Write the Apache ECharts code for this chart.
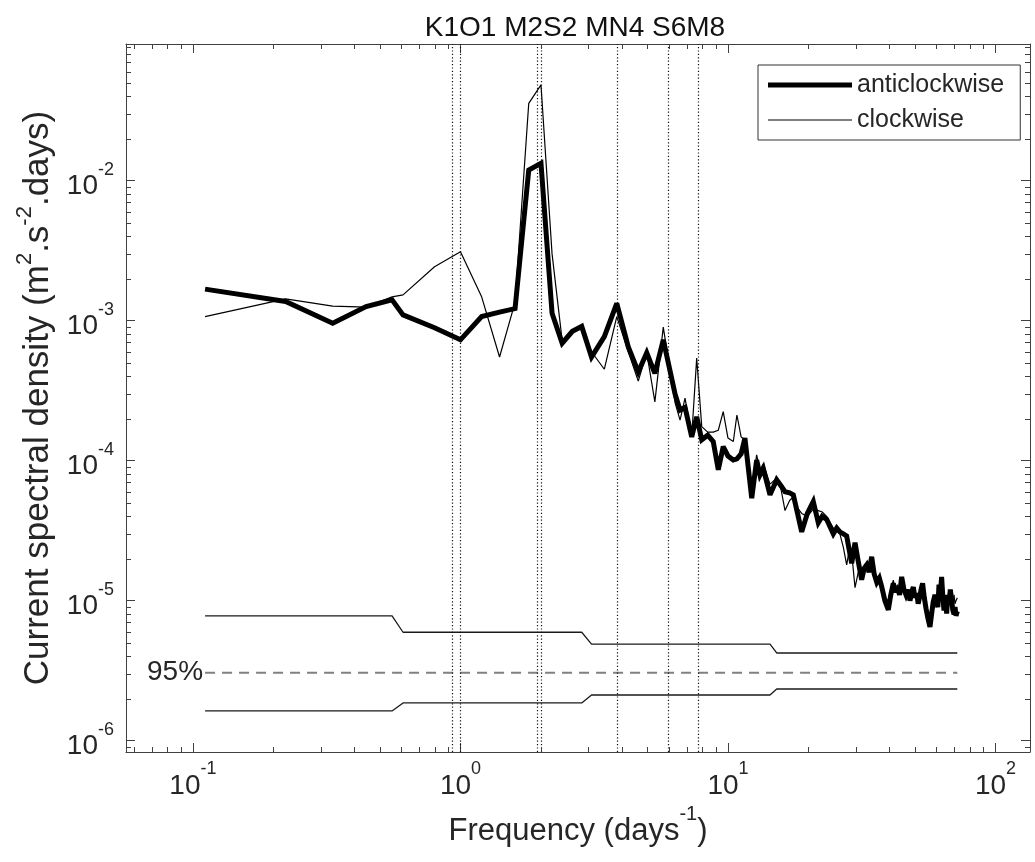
<!DOCTYPE html>
<html><head><meta charset="utf-8">
<script src="https://cdn.jsdelivr.net/npm/echarts@6/dist/echarts.min.js"></script>
<style>html,body{margin:0;padding:0;background:#fff}#c{width:1035px;height:862px}</style>
</head><body><div id="c"></div>
<script>
// ---------- data ----------
const freq = [0.111,0.222,0.333,0.444,0.555,0.61,0.80,1.00,1.20,1.40,1.60,1.80,2.00,2.20,2.40,2.62,2.84,3.09,3.45,3.84,4.24,4.62,4.97,5.33,5.73,6.34,6.62,6.91,7.32,7.64,7.98,8.40,8.81,9.20,9.60,10.0,10.47,10.8,11.2,11.57,12.27,12.8,13.17,13.55,14.36,15.21,15.8,16.34,17.0,17.55,18.2,18.86,19.8,20.84,21.76,22.5,23.39,24.76,25.5,26.2,27.0,27.78,28.4,29.0,29.85,30.7,31.6,32.3,33.0,33.7,34.45,35.2,36.0,36.8,37.55,38.6,39.76,40.6,41.5,42.2,43.0,43.8,44.6,45.5,46.3,47.1,47.9,48.6,49.3,50.0,50.8,51.4,52.0,52.7,53.4,54.2,55.0,55.9,56.9,57.7,58.5,59.4,60.3,60.9,61.5,62.2,62.9,63.5,64.2,65.0,65.7,66.3,67.0,67.8,68.6,69.3,70.0,70.6,71.2,72.0];
const anticlockwise = [1.68e-3,1.37e-3,9.6e-4,1.26e-3,1.41e-3,1.10e-3,8.9e-4,7.3e-4,1.07e-3,1.15e-3,1.22e-3,1.19e-2,1.33e-2,1.13e-3,6.9e-4,8.4e-4,9.1e-4,5.5e-4,7.7e-4,1.33e-3,6.5e-4,4.3e-4,5.9e-4,4.2e-4,7.3e-4,3.0e-4,2.3e-4,2.4e-4,1.48e-4,2.06e-4,1.41e-4,1.52e-4,1.37e-4,8.6e-5,1.26e-4,1.08e-4,1.01e-4,1.03e-4,1.12e-4,1.45e-4,5.4e-5,1.01e-4,7.9e-5,8.8e-5,5.7e-5,7.3e-5,6.6e-5,6.0e-5,5.9e-5,5.7e-5,4.2e-5,3.1e-5,4.2e-5,5.1e-5,3.6e-5,4.0e-5,3.8e-5,3.0e-5,3.3e-5,3.1e-5,3.0e-5,2.9e-5,2.3e-5,1.85e-5,2.6e-5,1.9e-5,1.41e-5,1.7e-5,1.8e-5,1.6e-5,2.06e-5,1.55e-5,1.35e-5,1.45e-5,1.26e-5,1.0e-5,8.6e-6,1.1e-5,1.33e-5,1.15e-5,1.25e-5,1.1e-5,1.48e-5,1.2e-5,1.1e-5,1.2e-5,1.0e-5,1.15e-5,1.25e-5,1.05e-5,1.13e-5,9.5e-6,1.05e-5,1.2e-5,1.33e-5,1.05e-5,8.8e-6,7.5e-6,6.5e-6,8.0e-6,9.8e-6,1.1e-5,1.13e-5,9.0e-6,1.3e-5,1.1e-5,1.48e-5,1.1e-5,8.5e-6,1.05e-5,8.1e-6,1.1e-5,9.5e-6,1.2e-5,1.0e-5,8.5e-6,8.0e-6,9.0e-6,7.8e-6,8.4e-6];
const clockwise = [1.07e-3,1.43e-3,1.27e-3,1.25e-3,1.48e-3,1.53e-3,2.43e-3,3.11e-3,1.48e-3,5.5e-4,1.35e-3,3.57e-2,4.83e-2,3.0e-3,7.2e-4,8.6e-4,8.8e-4,6.0e-4,4.5e-4,1.07e-3,6.0e-4,3.7e-4,5.9e-4,2.63e-4,9.0e-4,2.6e-4,1.95e-4,2.8e-4,1.5e-4,5.4e-4,1.75e-4,1.6e-4,1.6e-4,1.65e-4,2.24e-4,1.45e-4,1.37e-4,2.12e-4,1.48e-4,1.4e-4,6.2e-5,1.1e-4,8.5e-5,9.5e-5,6.8e-5,7.5e-5,6.2e-5,4.4e-5,5.2e-5,5.5e-5,4.6e-5,4.2e-5,4.0e-5,4.5e-5,4.4e-5,4.3e-5,4.0e-5,3.3e-5,3.2e-5,3.0e-5,2.4e-5,1.8e-5,2.3e-5,2.2e-5,1.24e-5,1.6e-5,1.6e-5,1.75e-5,1.7e-5,1.8e-5,1.9e-5,1.5e-5,1.4e-5,1.4e-5,1.3e-5,1.05e-5,1.0e-5,1.2e-5,1.4e-5,1.2e-5,1.3e-5,1.1e-5,1.4e-5,1.25e-5,1.1e-5,1.15e-5,1.05e-5,1.1e-5,1.2e-5,1.05e-5,1.1e-5,1.0e-5,1.05e-5,1.15e-5,1.25e-5,1.05e-5,9.0e-6,8.0e-6,7.0e-6,8.5e-6,1.0e-5,1.05e-5,1.1e-5,9.5e-6,1.25e-5,1.1e-5,1.4e-5,1.1e-5,9.0e-6,1.05e-5,8.5e-6,1.1e-5,1.0e-5,1.15e-5,1.05e-5,9.0e-6,1.1e-5,9.5e-6,1.0e-5,1.05e-5];
const ciFreq  = [0.111, 0.555, 0.61, 2.84, 3.09, 14.36, 15.21, 72.0];
const ciUpper = [7.8e-6, 7.8e-6, 5.95e-6, 5.95e-6, 4.9e-6, 4.9e-6, 4.23e-6, 4.23e-6];
const ciLower = [1.63e-6, 1.63e-6, 1.86e-6, 1.86e-6, 2.12e-6, 2.12e-6, 2.34e-6, 2.34e-6];
const ciLevelFreq = [0.111, 72.0];
const ciLevel = [3.06e-6, 3.06e-6];
const tidalNames = ['O1','K1','M2','S2','MN4','S6','M8'];
const tidalFreqs = [0.9295, 0.9973, 1.9323, 2.0, 3.8645, 6.0, 7.7292];
const xMinorTicks = [0.06,0.07,0.08,0.09,0.2,0.3,0.4,0.5,0.6,0.7,0.8,0.9,2,3,4,5,6,7,8,9,20,30,40,50,60,70,80,90];
const yMinorTicks = [9e-7,2e-6,3e-6,4e-6,5e-6,6e-6,7e-6,8e-6,9e-6,2e-5,3e-5,4e-5,5e-5,6e-5,7e-5,8e-5,9e-5,2e-4,3e-4,4e-4,5e-4,6e-4,7e-4,8e-4,9e-4,2e-3,3e-3,4e-3,5e-3,6e-3,7e-3,8e-3,9e-3,2e-2,3e-2,4e-2,5e-2,6e-2,7e-2,8e-2,9e-2];
const xLim = [0.0562, 134.6];
const yLim = [8.3e-7, 0.0947];

// ---------- chart ----------
const FONT = '"Liberation Sans", Arial, sans-serif';
const TXT = '#262626';
const AX = '#404040';
const pair = (xs, ys) => xs.map((x, i) => [x, ys[i]]);

function powFmt(v) {
  const e = Math.log10(v);
  const r = Math.round(e);
  if (Math.abs(e - r) > 1e-6) return '';
  return '{b|10}{s|' + r + '}';
}
const labelRich = {
  b: { fontSize: 28, fontFamily: FONT, color: TXT, lineHeight: 40, verticalAlign: 'bottom' },
  s: { fontSize: 18, fontFamily: FONT, color: TXT, lineHeight: 18, verticalAlign: 'top' }
};
const xNameRich = {
  n: { fontSize: 31, fontFamily: FONT, color: TXT, lineHeight: 42, verticalAlign: 'bottom' },
  s: { fontSize: 20, fontFamily: FONT, color: TXT, lineHeight: 20, verticalAlign: 'top' }
};
const yNameRich = {
  n: { fontSize: 35, fontFamily: FONT, color: TXT, lineHeight: 42, verticalAlign: 'bottom' },
  s: { fontSize: 22, fontFamily: FONT, color: TXT, lineHeight: 22, verticalAlign: 'top' }
};

function axisCommon(show) {
  return {
    axisLine: { show: true, onZero: false, lineStyle: { color: AX, width: 1 } },
    axisTick: { show: true, inside: true, length: 9, lineStyle: { color: AX, width: 1 } },
    splitLine: { show: false },
    axisLabel: show ? { formatter: powFmt, rich: labelRich } : { show: false }
  };
}

function minorTicks(values, dim) {
  return {
    type: 'custom', silent: true, clip: false, z: 5,
    data: values.map(v => dim === 'x' ? [v, 1e-3] : [1, v]),
    renderItem: function (params, api) {
      const cs = params.coordSys;
      const p = api.coord([api.value(0), api.value(1)]);
      const L = 5;
      const style = { stroke: AX, lineWidth: 1 };
      if (dim === 'x') {
        const x = Math.round(p[0]) + 0.5;
        return { type: 'group', children: [
          { type: 'line', shape: { x1: x, y1: cs.y + cs.height, x2: x, y2: cs.y + cs.height - L }, style },
          { type: 'line', shape: { x1: x, y1: cs.y, x2: x, y2: cs.y + L }, style }
        ]};
      }
      const y = Math.round(p[1]) + 0.5;
      return { type: 'group', children: [
        { type: 'line', shape: { x1: cs.x, y1: y, x2: cs.x + L, y2: y }, style },
        { type: 'line', shape: { x1: cs.x + cs.width, y1: y, x2: cs.x + cs.width - L, y2: y }, style }
      ]};
    }
  };
}

const chart = echarts.init(document.getElementById('c'), null, { renderer: 'canvas' });
chart.setOption({
  animation: false,
  backgroundColor: '#fff',
  textStyle: { fontFamily: FONT },
  graphic: [{
    type: 'text', x: 575, y: 28,
    style: { text: 'K1O1 M2S2 MN4 S6M8', font: '28px "Liberation Sans", Arial, sans-serif', fill: '#111', align: 'center', verticalAlign: 'middle' }
  }],
  grid: { left: 126, right: 5, top: 44, bottom: 110 },
  legend: {
    data: [
      { name: 'anticlockwise', icon: 'path://M0,0 L84,0 L84,5 L0,5 Z' },
      { name: 'clockwise', icon: 'path://M0,0 L84,0 L84,1.2 L0,1.2 Z' }
    ],
    orient: 'vertical', left: 758, top: 65,
    itemWidth: 84, itemHeight: 28, itemGap: 7,
    padding: [6, 16, 6, 10],
    backgroundColor: '#fff', borderColor: '#333', borderWidth: 1, borderRadius: 0,
    textStyle: { fontSize: 25, fontFamily: FONT, color: TXT, lineHeight: 28 }
  },
  xAxis: [
    Object.assign({ type: 'log', logBase: 10, min: xLim[0], max: xLim[1], position: 'bottom',
      name: '{n|Frequency (days}{s|-1}{n|)}', nameLocation: 'middle', nameGap: 42,
      nameTextStyle: { rich: xNameRich } }, axisCommon(true),
      { axisLabel: { formatter: powFmt, rich: labelRich, margin: 8 } }),
    Object.assign({ type: 'log', logBase: 10, min: xLim[0], max: xLim[1], position: 'top' }, axisCommon(false))
  ],
  yAxis: [
    Object.assign({ type: 'log', logBase: 10, min: yLim[0], max: yLim[1], position: 'left',
      name: '{n|Current spectral density (m}{s|2}{n|.s}{s|-2}{n|.days)}', nameLocation: 'middle', nameGap: 66,
      nameTextStyle: { rich: yNameRich } }, axisCommon(true),
      { axisLabel: { formatter: powFmt, rich: labelRich, margin: 12 } }),
    Object.assign({ type: 'log', logBase: 10, min: yLim[0], max: yLim[1], position: 'right' }, axisCommon(false))
  ],
  series: [
    {
      name: 'tidal', type: 'line', data: [], silent: true,
      markLine: {
        silent: true, symbol: ['none', 'none'], label: { show: false },
        lineStyle: { color: '#111', width: 1.2, type: [1.2, 2.2] },
        data: tidalFreqs.map(f => ({ xAxis: f }))
      }
    },
    { name: 'ciUpper', type: 'line', data: pair(ciFreq, ciUpper), symbol: 'none', silent: true,
      lineStyle: { color: '#1a1a1a', width: 1.3 } },
    { name: 'ciLower', type: 'line', data: pair(ciFreq, ciLower), symbol: 'none', silent: true,
      lineStyle: { color: '#1a1a1a', width: 1.3 } },
    { name: 'ci95', type: 'line', data: pair(ciLevelFreq, ciLevel), symbol: 'none', silent: true,
      lineStyle: { color: '#808080', width: 2, type: [10, 7] },
      markPoint: {
        silent: true, symbol: 'circle', symbolSize: 0,
        label: { show: true, position: 'left', distance: 2, formatter: '95%', fontSize: 28, fontFamily: FONT, color: TXT },
        data: [{ coord: [ciLevelFreq[0], ciLevel[0]] }]
      }
    },
    { name: 'anticlockwise', type: 'line', data: pair(freq, anticlockwise), symbol: 'none',
      lineStyle: { color: '#000', width: 5, join: 'miter', miterLimit: 3 }, itemStyle: { color: '#000' }, z: 3 },
    { name: 'clockwise', type: 'line', data: pair(freq, clockwise), symbol: 'none',
      lineStyle: { color: '#000', width: 1.2 }, itemStyle: { color: '#000' }, z: 4 },
    minorTicks(xMinorTicks, 'x'),
    minorTicks(yMinorTicks, 'y')
  ]
});
</script></body></html>
